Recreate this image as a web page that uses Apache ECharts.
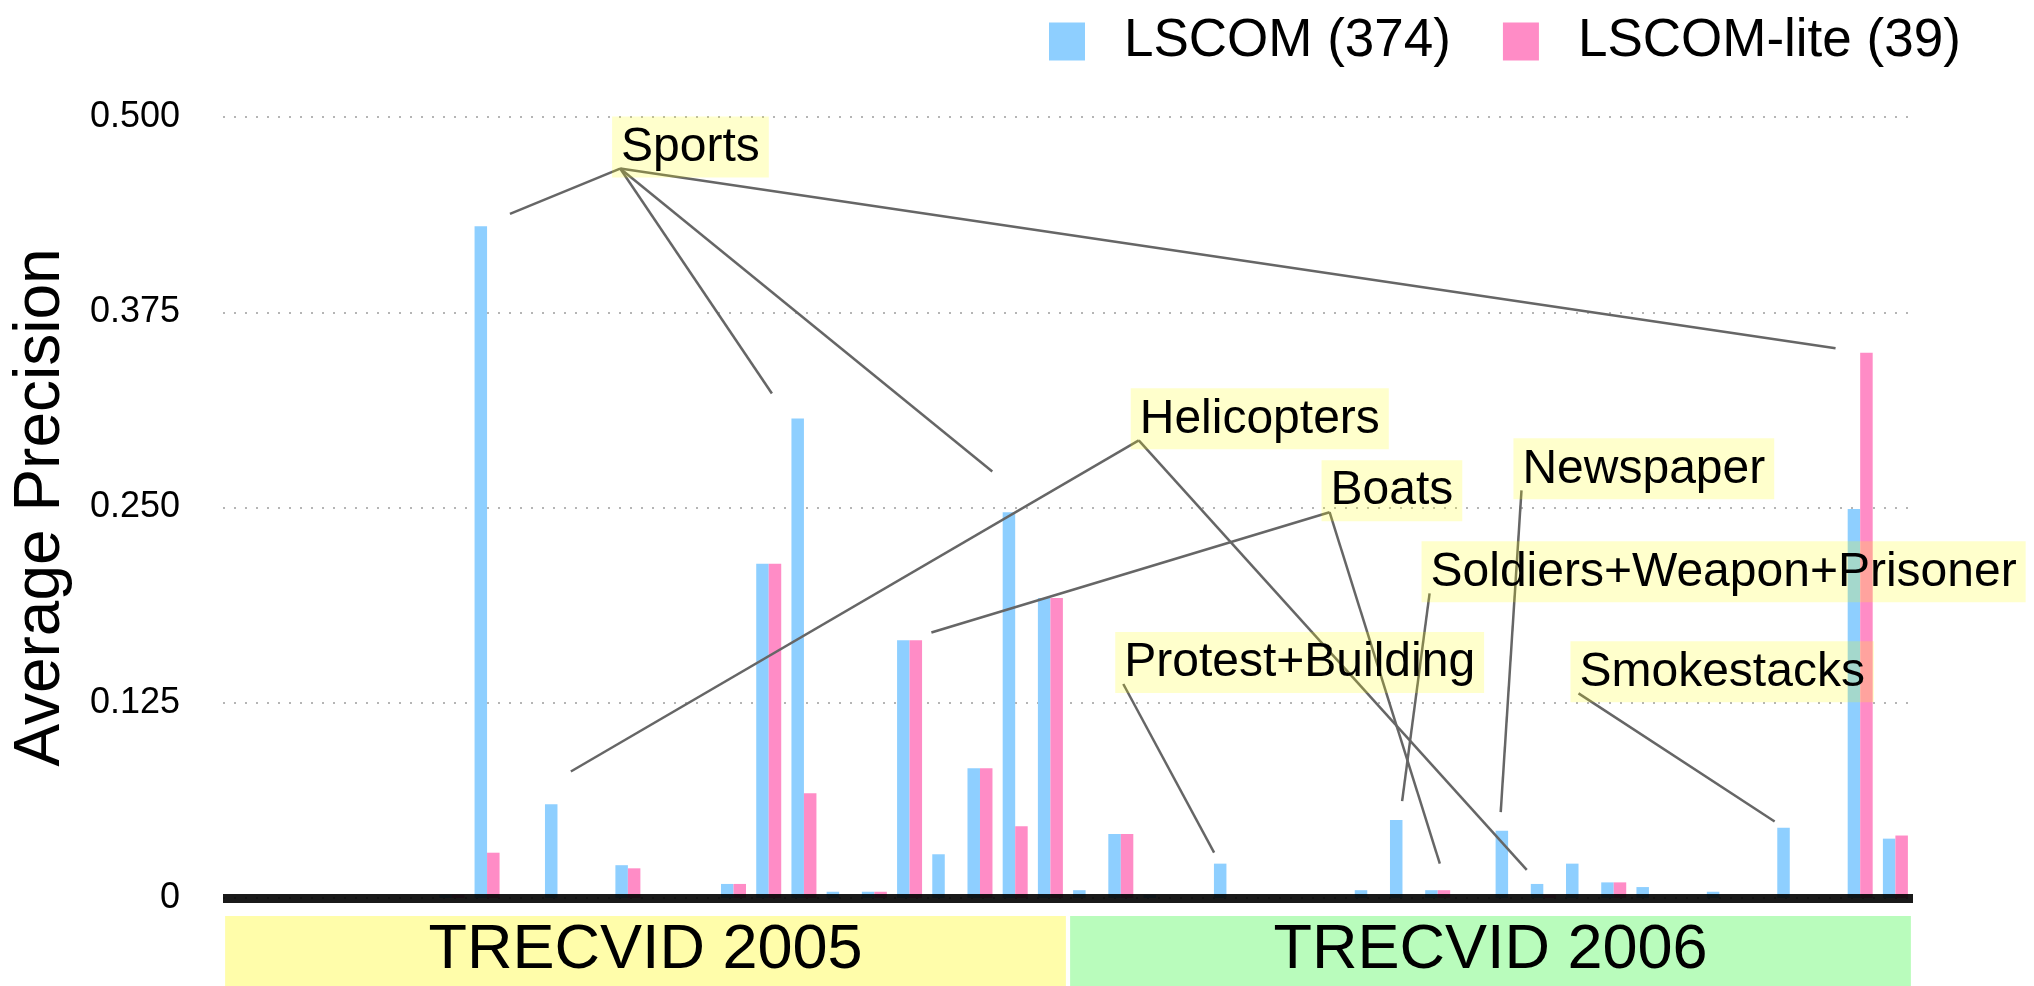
<!DOCTYPE html>
<html>
<head>
<meta charset="utf-8">
<title>LSCOM vs LSCOM-lite</title>
<script src="https://cdn.jsdelivr.net/npm/echarts@6/dist/echarts.min.js"></script>
<style>
  html, body { margin: 0; padding: 0; background: #fff; }
  #chart-container { width: 2034px; height: 986px; }
</style>
</head>
<body>
<div id="chart-container"></div>
<script>
// TRECVID search topics (2005: 149-172, 2006: 173-196)
var categories = [
  '149', '150', '151', '152', '153', '154', '155', '156', '157', '158', '159', '160',
  '161', '162', '163', '164', '165', '166', '167', '168', '169', '170', '171', '172',
  '173', '174', '175', '176', '177', '178', '179', '180', '181', '182', '183', '184',
  '185', '186', '187', '188', '189', '190', '191', '192', '193', '194', '195', '196'
];

var lscom = [
  0, 0, 0, 0, 0, 0, 0.002, 0.430, 0, 0.060, 0, 0.021,
  0, 0, 0.009, 0.214, 0.307, 0.004, 0.004, 0.165, 0.028, 0.083, 0.247, 0.192,
  0.005, 0.041, 0.002, 0, 0.022, 0, 0, 0, 0.005, 0.050, 0.005, 0,
  0.043, 0.009, 0.022, 0.010, 0.007, 0, 0.004, 0, 0.045, 0, 0.249, 0.038
];

var lscomLite = [
  0, 0, 0, 0, 0, 0, 0.002, 0.029, 0, 0, 0, 0.019,
  0, 0, 0.009, 0.214, 0.067, 0, 0.004, 0.165, 0, 0.083, 0.046, 0.192,
  0, 0.041, 0, 0, 0, 0, 0, 0, 0, 0, 0.005, 0,
  0, 0.002, 0, 0.010, 0, 0, 0, 0, 0, 0, 0.349, 0.040
];

var yearBands = ['TRECVID 2005', 'TRECVID 2006'];
var yearColors = ['#fffdaa', '#b9fcbc'];

// annotation anchors, in (topic slot, average precision) units
var noteNames = ['Sports', 'Helicopters', 'Boats', 'Newspaper',
  'Soldiers+Weapon+Prisoner', 'Protest+Building', 'Smokestacks'];
var noteAnchors = [
  [11.28, 0.467], [26.01, 0.293], [31.43, 0.247], [36.88, 0.261],
  [34.27, 0.195], [25.57, 0.137], [38.50, 0.131]
];
// which note each pointer starts from, and where it ends
var pointerNote = [0, 0, 0, 0, 1, 1, 2, 2, 3, 4, 5, 6];
var pointerEnds = [
  [8.15, 0.438], [15.59, 0.323], [21.85, 0.273], [45.80, 0.352],
  [9.88, 0.081], [37.03, 0.018],
  [20.12, 0.170], [34.56, 0.022],
  [36.29, 0.055],
  [33.49, 0.062],
  [28.15, 0.029],
  [44.07, 0.049]
];

var font = 'Liberation Sans, Arial, Helvetica, sans-serif';

var dom = document.getElementById('chart-container');
var myChart = echarts.init(dom, null, { renderer: 'canvas' });
var option;

option = {
  animation: false,
  textStyle: { fontFamily: font, color: '#000' },
  legend: {
    data: ['LSCOM (374)', 'LSCOM-lite (39)'],
    left: 1044,
    top: 10,
    icon: 'rect',
    itemWidth: 36,
    itemHeight: 38,
    itemGap: 52,
    selectedMode: false,
    textStyle: { fontSize: 53, color: '#000', padding: [0, 0, 0, 34] }
  },
  grid: [
    { left: 223, right: 121, top: 117, bottom: 88, containLabel: false },
    { left: 223, right: 121, top: 916, height: 70, containLabel: false }
  ],
  xAxis: [
    {
      type: 'category',
      gridIndex: 0,
      data: categories,
      z: 3,
      axisLine: { show: true, lineStyle: { color: 'rgba(0,0,0,0.9)', width: 9, cap: 'butt' } },
      axisTick: { show: false },
      axisLabel: { show: false },
      splitLine: { show: false }
    },
    {
      type: 'value',
      gridIndex: 0,
      min: 0,
      max: 48,
      show: false
    },
    {
      type: 'category',
      gridIndex: 1,
      data: yearBands,
      axisLine: { show: false },
      axisTick: { show: false },
      axisLabel: { show: false }
    }
  ],
  yAxis: [
    {
      type: 'value',
      gridIndex: 0,
      min: 0,
      max: 0.5,
      interval: 0.125,
      name: 'Average Precision',
      nameLocation: 'middle',
      nameRotate: 90,
      nameGap: 150,
      nameTextStyle: { fontSize: 64, color: '#000' },
      axisLine: { show: false },
      axisTick: { show: false },
      axisLabel: {
        fontSize: 36,
        color: '#000',
        margin: 43,
        formatter: function (v) { return v === 0 ? '0' : v.toFixed(3); }
      },
      splitLine: { lineStyle: { color: '#b5b5b5', width: 2, type: [2, 9] } }
    },
    {
      type: 'value',
      gridIndex: 1,
      min: 0,
      max: 1,
      show: false
    }
  ],
  series: [
    {
      name: 'LSCOM (374)',
      type: 'bar',
      xAxisIndex: 0,
      yAxisIndex: 0,
      data: lscom,
      barWidth: 12.5,
      barGap: '0%',
      itemStyle: { color: '#8ecfff' },
      silent: true
    },
    {
      name: 'LSCOM-lite (39)',
      type: 'bar',
      xAxisIndex: 0,
      yAxisIndex: 0,
      data: lscomLite,
      barWidth: 12.5,
      barGap: '0%',
      itemStyle: { color: '#ff8cc6' },
      silent: true
    },
    {
      name: 'pointers',
      type: 'lines',
      coordinateSystem: 'cartesian2d',
      xAxisIndex: 1,
      yAxisIndex: 0,
      z: 4,
      silent: true,
      lineStyle: { color: '#666666', width: 2.5, opacity: 1 },
      data: pointerEnds.map(function (end, i) {
        return { coords: [noteAnchors[pointerNote[i]], end] };
      })
    },
    {
      name: 'notes',
      type: 'scatter',
      xAxisIndex: 1,
      yAxisIndex: 0,
      z: 5,
      silent: true,
      symbolSize: 0.1,
      itemStyle: { color: '#000', opacity: 0 },
      label: {
        show: true,
        formatter: '{b}',
        position: [-8, 9],
        align: 'left',
        verticalAlign: 'bottom',
        fontSize: 48,
        lineHeight: 52,
        color: '#000',
        opacity: 1,
        textBorderWidth: 0,
        backgroundColor: 'rgba(255,255,0,0.2)',
        padding: [5, 9, 4, 9]
      },
      data: noteNames.map(function (n, i) {
        return { name: n, value: noteAnchors[i] };
      })
    },
    {
      name: 'years',
      type: 'bar',
      xAxisIndex: 2,
      yAxisIndex: 1,
      barCategoryGap: '0.5%',
      silent: true,
      label: {
        show: true,
        position: 'inside',
        formatter: '{b}',
        fontSize: 63,
        color: '#000'
      },
      data: yearBands.map(function (y, i) {
        return { value: 1, itemStyle: { color: yearColors[i] } };
      })
    }
  ]
};

if (option && typeof option === 'object') {
  myChart.setOption(option);
}

window.addEventListener('resize', myChart.resize);
</script>
</body>
</html>
